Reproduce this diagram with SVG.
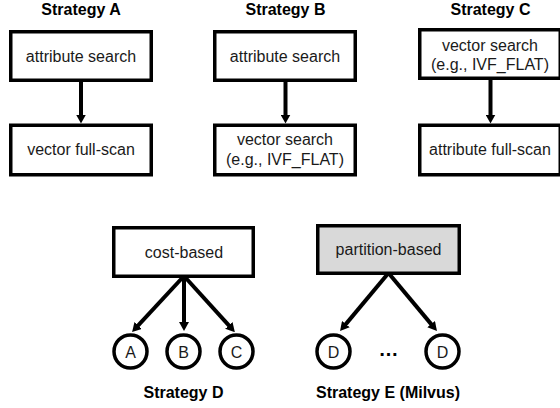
<svg xmlns="http://www.w3.org/2000/svg" width="560" height="408" viewBox="0 0 560 408">
<defs>
<marker id="ah" viewBox="0 0 9 10" refX="1" refY="5" markerWidth="9" markerHeight="10" markerUnits="userSpaceOnUse" orient="auto">
<path d="M0,0 L9,5 L0,10 z" fill="#000"/>
</marker>
<style>
.box{fill:#fff;stroke:#000;stroke-width:3.5}
.gray{fill:#d9d9d9}
.t{font-family:"Liberation Sans",Arial,sans-serif;font-size:16px;fill:#1a1a1a;text-anchor:middle}
.h{font-family:"Liberation Sans",Arial,sans-serif;font-size:16px;font-weight:bold;fill:#000;text-anchor:middle}
.c{fill:#fff;stroke:#000;stroke-width:3.5}
.e{fill:none;stroke:#000;stroke-width:4;marker-end:url(#ah)}
</style>
</defs>
<g id="titles">
<text class="h" x="81" y="15">Strategy A</text>
<text class="h" x="285.5" y="15">Strategy B</text>
<text class="h" x="490.5" y="15">Strategy C</text>
<text class="h" x="183.5" y="398">Strategy D</text>
<text class="h" x="388" y="398">Strategy E (Milvus)</text>
</g>
<g id="connectors">
<line class="e" x1="81" y1="82" x2="81" y2="115.5"/>
<line class="e" x1="285.5" y1="82" x2="285.5" y2="115.5"/>
<line class="e" x1="490.5" y1="80" x2="490.5" y2="115.5"/>
<line class="e" x1="184" y1="276" x2="137.5" y2="326.2"/>
<line class="e" x1="184" y1="276" x2="184" y2="323"/>
<line class="e" x1="184" y1="276" x2="229.5" y2="326.2"/>
<line class="e" x1="388.5" y1="273" x2="345.2" y2="324.9"/>
<line class="e" x1="388.5" y1="273" x2="431.8" y2="324.9"/>
</g>
<g id="a1"><rect class="box" x="10.75" y="31.75" width="140.5" height="48.5"/><text class="t" x="81" y="62">attribute search</text></g>
<g id="a2"><rect class="box" x="10.75" y="125.25" width="140.5" height="49.5"/><text class="t" x="81" y="155">vector full-scan</text></g>
<g id="b1"><rect class="box" x="214.75" y="31.75" width="140.5" height="48.5"/><text class="t" x="285" y="62">attribute search</text></g>
<g id="b2"><rect class="box" x="214.75" y="125.25" width="140.5" height="49.5"/><text class="t" x="285" y="145">vector search</text><text class="t" x="285" y="165">(e.g., IVF_FLAT)</text></g>
<g id="c1"><rect class="box" x="419.75" y="29.75" width="140.5" height="48.5"/><text class="t" x="490" y="51">vector search</text><text class="t" x="490" y="70">(e.g., IVF_FLAT)</text></g>
<g id="c2"><rect class="box" x="419.75" y="125.25" width="140.5" height="49.5"/><text class="t" x="490" y="155">attribute full-scan</text></g>
<g id="d"><rect class="box" x="113.75" y="227.75" width="139.5" height="48.5"/><text class="t" x="184" y="258">cost-based</text></g>
<g id="e"><rect class="box gray" x="317.75" y="225.75" width="141.5" height="47.5"/><text class="t" x="388.5" y="255">partition-based</text></g>
<g id="nA"><circle class="c" cx="130.5" cy="351.5" r="16.5"/><text class="t" x="130.5" y="357.5">A</text></g>
<g id="nB"><circle class="c" cx="183.5" cy="351.5" r="16.5"/><text class="t" x="183.5" y="357.5">B</text></g>
<g id="nC"><circle class="c" cx="236.5" cy="351.5" r="16.5"/><text class="t" x="236.5" y="357.5">C</text></g>
<g id="nD1"><circle class="c gray" cx="333.5" cy="351.5" r="16.5"/><text class="t" x="333.5" y="357.5">D</text></g>
<g id="nD2"><circle class="c gray" cx="442.5" cy="351.5" r="16.5"/><text class="t" x="442.5" y="357.5">D</text></g>
<text class="h" x="388.5" y="356" style="font-size:20px">…</text>
</svg>
